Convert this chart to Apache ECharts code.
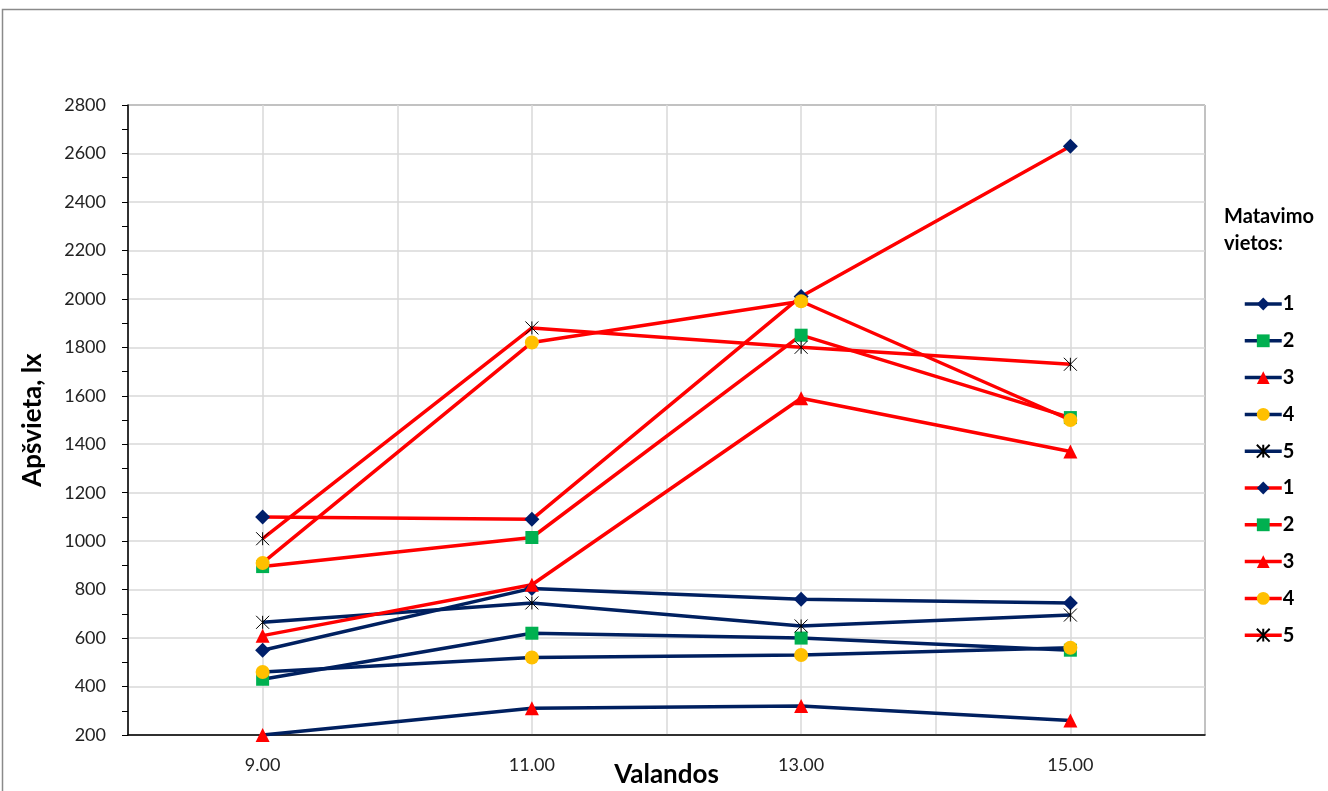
<!DOCTYPE html>
<html>
<head>
<meta charset="utf-8">
<script src="https://cdn.jsdelivr.net/npm/echarts@6/dist/echarts.min.js"></script>
<style>
html,body{margin:0;padding:0;background:#fff;}
#chart{width:1328px;height:791px;}
</style>
</head>
<body>
<div id="chart"></div>
<script>
// Hours (x values)
const hours = [9, 11, 13, 15];
// Measurement place names
const placeNames = ['1', '2', '3', '4', '5'];
// Navy group (series 1-5)
const navy1 = [550, 805, 760, 745];
const navy2 = [430, 620, 600, 550];
const navy3 = [200, 310, 320, 260];
const navy4 = [460, 520, 530, 560];
const navy5 = [665, 745, 650, 695];
// Red group (series 1-5)
const red1 = [1100, 1090, 2010, 2630];
const red2 = [895, 1015, 1850, 1510];
const red3 = [610, 820, 1590, 1370];
const red4 = [910, 1820, 1990, 1500];
const red5 = [1010, 1880, 1800, 1730];

const navyValues = [navy1, navy2, navy3, navy4, navy5];
const redValues = [red1, red2, red3, red4, red5];

const FONT = 'Lato, "Open Sans", sans-serif';
const NAVY = '#002060';
const RED = '#FF0000';
const STAR = 'path://M0,0L10,10M10,0L0,10M5,0L5,10';

const markers = [
  {symbol: 'diamond', size: 15, color: '#001F6A', border: '#001F6A', bw: 0},
  {symbol: 'rect', size: 13, color: '#00B050', border: '#00B050', bw: 0},
  {symbol: 'triangle', size: 14, color: '#FF0000', border: '#FF0000', bw: 0},
  {symbol: 'circle', size: 14, color: '#FFC000', border: '#FFC000', bw: 0},
  {symbol: STAR, size: 13, color: 'rgba(0,0,0,0)', border: '#000000', bw: 1}
];

function makeSeries(prefix, values, lineColor) {
  return values.map((vals, i) => {
    const m = markers[i];
    return {
      name: prefix + placeNames[i],
      type: 'line',
      data: hours.map((h, j) => [h, vals[j]]),
      symbol: m.symbol,
      symbolSize: m.size,
      showAllSymbol: true,
      lineStyle: {color: lineColor, width: 3.5},
      itemStyle: {color: m.color, borderColor: m.border, borderWidth: m.bw},
      emphasis: {disabled: true},
      animation: false,
      z: 2
    };
  });
}

const series = makeSeries('n', navyValues, NAVY).concat(makeSeries('r', redValues, RED));

const chart = echarts.init(document.getElementById('chart'), null, {renderer: 'canvas'});
chart.setOption({
  animation: false,
  backgroundColor: '#fff',
  title: {
    text: 'Matavimo\nvietos:',
    left: 1224,
    top: 203,
    padding: 0,
    textStyle: {fontFamily: FONT, fontWeight: 'bold', fontSize: 20, color: '#000', lineHeight: 27}
  },
  legend: {
    orient: 'vertical',
    left: 1243,
    top: 294,
    padding: 0,
    itemWidth: 37,
    itemHeight: 16,
    itemGap: 16.8,
    data: series.map(s => s.name),
    formatter: name => name.slice(1),
    lineStyle: {width: 3.5},
    textStyle: {fontFamily: FONT, fontWeight: 'bold', fontSize: 20, lineHeight: 20, color: '#000', padding: [0, 0, 0, -4]},
    selectedMode: false
  },
  graphic: [{
    type: 'rect',
    shape: {x: 2.5, y: 9.5, width: 1340, height: 800},
    style: {fill: 'none', stroke: '#8a8a8a', lineWidth: 1.5},
    silent: true
  }],
  grid: {
    left: 128, right: 123, top: 105, bottom: 56,
    outerBoundsMode: 'none',
    containLabel: false,
    show: true, borderColor: '#000', borderWidth: 1, backgroundColor: 'transparent'
  },
  xAxis: {
    type: 'value',
    min: 8, max: 16, interval: 1,
    name: 'Valandos',
    nameLocation: 'middle',
    nameGap: 40,
    nameMoveOverlap: false,
    nameTextStyle: {fontFamily: FONT, fontWeight: 'bold', fontSize: 26, color: '#000', verticalAlign: 'middle'},
    axisLine: {show: true, lineStyle: {color: '#000', width: 1.5}},
    axisTick: {show: false},
    axisLabel: {
      fontFamily: FONT, fontSize: 18, color: '#222', margin: 21,
      formatter: v => (v % 2 === 1 ? v.toFixed(2) : ''),
      showMinLabel: false, showMaxLabel: false
    },
    splitLine: {show: true, lineStyle: {color: '#d9d9d9', width: 1.5}}
  },
  yAxis: {
    type: 'value',
    min: 200, max: 2800, interval: 200,
    name: 'Apšvieta, lx',
    nameLocation: 'middle',
    nameGap: 82,
    nameRotate: 90,
    nameMoveOverlap: false,
    nameTextStyle: {fontFamily: FONT, fontWeight: 'bold', fontSize: 26, color: '#000'},
    axisLine: {show: true, lineStyle: {color: '#000', width: 1.5}},
    axisTick: {show: true, length: 6, lineStyle: {color: '#000'}},
    minorTick: {show: true, splitNumber: 2, length: 6, lineStyle: {color: '#000'}},
    axisLabel: {fontFamily: FONT, fontSize: 18, color: '#222', margin: 22, formatter: v => String(v)},
    splitLine: {show: true, lineStyle: {color: '#d9d9d9', width: 1.5}}
  },
  series: series
});
</script>
</body>
</html>
